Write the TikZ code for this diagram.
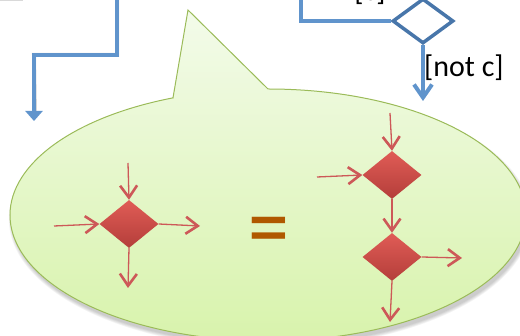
\documentclass[tikz,border=0pt]{standalone}
\usepackage{fontspec}
\setmainfont{Carlito}
\usetikzlibrary{arrows.meta,shapes.geometric}

\definecolor{flowblue}{RGB}{96,148,204}
\definecolor{gateblue}{RGB}{72,118,170}
\definecolor{bubbleline}{RGB}{155,187,89}
\definecolor{bubbletop}{RGB}{243,251,234}
\definecolor{bubblebot}{RGB}{216,243,172}
\definecolor{gateredlight}{RGB}{224,92,86}
\definecolor{gatereddark}{RGB}{180,62,58}
\definecolor{arrowred}{RGB}{205,88,88}
\definecolor{eqbrown}{RGB}{176,88,0}

\begin{document}
\begin{tikzpicture}[x=1pt,y=-1pt,
  flow/.style={draw=flowblue,line width=4pt},
  flowshadow/.style={draw=black,opacity=0.16,line width=4pt,shift={(1pt,-2pt)}},
  barbhead/.style={-{Straight Barb[length=13pt,width=18pt,line width=4pt]}},
  trihead/.style={-{Triangle[length=10pt,width=17pt]}},
  gate/.style={diamond,draw=gateblue,line width=3.5pt,fill=white,inner sep=0pt,
    minimum width=61pt,minimum height=45pt},
  merge/.style={diamond,draw=none,inner sep=0pt,top color=gateredlight,
    bottom color=gatereddark,minimum width=59pt,minimum height=48pt},
  redarrow/.style={draw=arrowred,line width=1.3pt,
    -{Straight Barb[length=12pt,width=17pt,line width=2.6pt]}},
  guard/.style={inner sep=0pt,font=\fontsize{30}{35}\selectfont},
]
\useasboundingbox (0,0) rectangle (520,336);

% faint edge of the box above
\draw[black!15,line width=1.5pt] (0,0.7) -- (23,0.7);

% speech bubble: soft shadow, then body with pointer
\foreach \k in {0,...,4}
  \fill[black,opacity=0.045] (270,219)
    ellipse [x radius={258pt+0.8pt*\k},y radius={126pt+0.8pt*\k}];
\path[draw=bubbleline,line width=1pt,top color=bubbletop,bottom color=bubblebot]
  (173,97.8) -- (188,10) -- (268,89)
  arc[start angle=90,end angle=-248.4,x radius=258pt,y radius=126pt] -- cycle;

% flow arriving from the left
\coordinate (lstart) at (117,-6);
\coordinate (lbend) at (34,55);
\coordinate (lend) at (34,121);
\draw[flowshadow] (lstart) |- (lbend) -- (34,112);
\draw[flow,trihead] (lstart) |- (lbend) -- (lend);

% decision with its two guarded exits
\node[gate] (dec) at (423,21) {};
\coordinate (cend) at (301,-6);
\coordinate (nend) at (423,101);
\draw[flowshadow] (dec.west) -| (cend);
\draw[flow] (dec.west) -| (cend);
\draw[flow,barbhead] (dec.south) -- (nend);
\node[guard,anchor=base] (clab) at (370,1) {[c]};
\node[guard,anchor=base west] (notclab) at (424,77) {[not c]};

% single merge-and-branch node
\node[merge] (one) at (129,224) {};
\coordinate (oin1) at (54,226);
\coordinate (oin2) at (128,163);
\coordinate (oout1) at (200,226);
\coordinate (oout2) at (128,288);
\draw[redarrow] (oin1) -- (one.west);
\draw[redarrow] (oin2) -- (one.north);
\draw[redarrow] (one.east) -- (oout1);
\draw[redarrow] (one.south) -- (oout2);

% equivalence sign
\node[inner sep=0pt,text=eqbrown,font=\fontsize{82}{82}\selectfont]
  (eq) at (269,238) {\scalebox{1}[1.2]{=}};

% merge followed by decision
\node[merge] (mtop) at (392,175) {};
\node[merge] (mbot) at (392,257) {};
\coordinate (tin1) at (390,113);
\coordinate (tin2) at (317,177);
\coordinate (tout1) at (462,258);
\coordinate (tout2) at (390,322);
\draw[redarrow] (tin1) -- (mtop.north);
\draw[redarrow] (tin2) -- (mtop.west);
\draw[redarrow] (mtop.south) -- (mbot.north);
\draw[redarrow] (mbot.east) -- (tout1);
\draw[redarrow] (mbot.south) -- (tout2);
\end{tikzpicture}
\end{document}
